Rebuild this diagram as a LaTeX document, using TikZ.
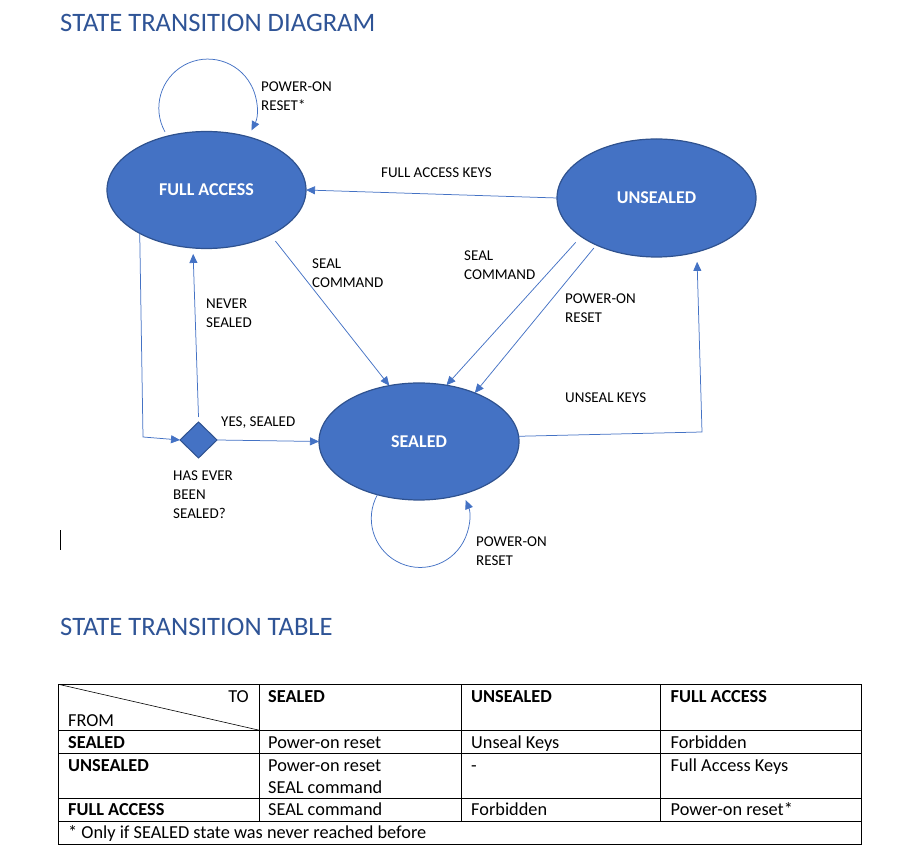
\documentclass[tikz,border=0pt]{standalone}
\usepackage{fontspec}
\setmainfont{Carlito}
\usetikzlibrary{shapes.geometric,arrows.meta}

\definecolor{statefill}{HTML}{4472C4}
\definecolor{stateline}{HTML}{2F528F}
\definecolor{titleblue}{HTML}{2F5496}

\tikzset{
  state/.style={ellipse, draw=stateline, fill=statefill, line width=1.2pt,
    text=white, font=\bfseries\fontsize{18}{21}\selectfont,
    minimum width=199pt, minimum height=117pt, inner sep=0pt, outer sep=0pt},
  choice/.style={diamond, draw=stateline, fill=statefill, line width=1pt,
    minimum width=37pt, minimum height=36pt, inner sep=0pt, outer sep=0pt},
  flow/.style={draw=statefill, line width=0.75pt, -{Triangle[length=9pt,width=8pt]}},
  lbl/.style={anchor=base west, align=left, inner sep=0pt, font=\fontsize{15}{19}\selectfont},
  cell/.style={anchor=base west, inner sep=0pt, font=\fontsize{18.3}{22}\selectfont},
  hcell/.style={cell, font=\bfseries\fontsize{18.3}{22}\selectfont},
  heading/.style={anchor=base west, inner sep=0pt, text=titleblue, font=\fontsize{26.6}{30}\selectfont},
  tabline/.style={draw=black, line width=0.8pt}
}

\begin{document}
\begin{tikzpicture}[x=1pt,y=1pt]
  \useasboundingbox (0,0) rectangle (902,865);

  \node[heading] (T1) at (60,833) {STATE TRANSITION DIAGRAM};

  % states
  \node[state] (FA) at (206.5,675) {FULL ACCESS};
  \node[state, minimum height=118pt] (UN) at (656.5,667) {UNSEALED};
  \node[state, minimum width=200pt] (SE) at (419,423.5) {SEALED};
  \node[choice] (HS) at (198.5,425) {};
  \coordinate (UK) at (702,433);
  \coordinate (HC) at (143,428);

  % transitions
  \draw[flow] ([yshift=5pt]FA.128) arc[start angle=209, end angle=-27, radius=49pt];
  \draw[flow] (UN.west) -- (FA.east);
  \draw[flow, shorten <=8pt] (FA.-35) -- (SE.118);
  \draw[flow, shorten <=8pt] (UN.207) -- (SE.64);
  \draw[flow, shorten <=4pt] (UN.218) -- (SE.41);
  \draw[flow] (SE.3) -- (UK) -- ([yshift=-10pt]UN.-53);
  \draw[flow] (FA.213) -- (HC) -- (HS.west);
  \draw[flow] ([yshift=5pt]HS.north) -- ([yshift=-6pt]FA.257);
  \draw[flow] (HS.east) -- (SE.west);
  \draw[flow] (SE.232) arc[start angle=151, end angle=382, radius=49pt];

  % labels (base = last line)
  \node[lbl] (L1) at (261,754.2) {POWER-ON\\RESET*};
  \node[lbl] (L2) at (381,687.2) {FULL ACCESS KEYS};
  \node[lbl] (L3) at (312,577.2) {SEAL\\COMMAND};
  \node[lbl] (L4) at (464,585.2) {SEAL\\COMMAND};
  \node[lbl] (L5) at (565,542.2) {POWER-ON\\RESET};
  \node[lbl] (L6) at (206,537.2) {NEVER\\SEALED};
  \node[lbl] (L7) at (565,462.2) {UNSEAL KEYS};
  \node[lbl] (L8) at (221,438.2) {YES, SEALED};
  \node[lbl] (L9) at (173,346.2) {HAS EVER\\BEEN\\SEALED?};
  \node[lbl] (L10) at (476,299.2) {POWER-ON\\RESET};

  \draw[line width=0.8pt] (60,315) -- (60,335);

  \node[heading] (T2) at (60,229) {STATE TRANSITION TABLE};

  % table
  \draw[tabline] (58.5,21) rectangle (861,180.7);
  \draw[tabline] (58.5,134.7) -- (861,134.7);
  \draw[tabline] (58.5,111.3) -- (861,111.3);
  \draw[tabline] (58.5,67) -- (861,67);
  \draw[tabline] (58.5,43.3) -- (861,43.3);
  \draw[tabline] (259.5,43.3) -- (259.5,180.7);
  \draw[tabline] (461,43.3) -- (461,180.7);
  \draw[tabline] (660.5,43.3) -- (660.5,180.7);
  \draw[black, line width=0.6pt] (58.5,180.7) -- (259.5,134.7);

  \node[cell, anchor=base east] (TO) at (249,162) {TO};
  \node[cell] (FR) at (68,138.5) {FROM};
  \node[hcell] (H1) at (268,162) {SEALED};
  \node[hcell] (H2) at (471,162) {UNSEALED};
  \node[hcell] (H3) at (670.5,162) {FULL ACCESS};

  \node[hcell] (R1) at (68,116.4) {SEALED};
  \node[cell] (C11) at (268,116.4) {Power-on reset};
  \node[cell] (C12) at (471,116.4) {Unseal Keys};
  \node[cell] (C13) at (670.5,116.4) {Forbidden};

  \node[hcell] (R2) at (68,93.1) {UNSEALED};
  \node[cell] (C21) at (268,93.1) {Power-on reset};
  \node[cell] (C21b) at (268,71.1) {SEAL command};
  \node[cell] (C22) at (471,93.1) {-};
  \node[cell] (C23) at (670.5,93.1) {Full Access Keys};

  \node[hcell] (R3) at (68,49.1) {FULL ACCESS};
  \node[cell] (C31) at (268,49.1) {SEAL command};
  \node[cell] (C32) at (471,49.1) {Forbidden};
  \node[cell] (C33) at (670.5,49.1) {Power-on reset*};

  \node[cell] (NT) at (68,26.1) {* Only if SEALED state was never reached before};
\end{tikzpicture}
\end{document}
